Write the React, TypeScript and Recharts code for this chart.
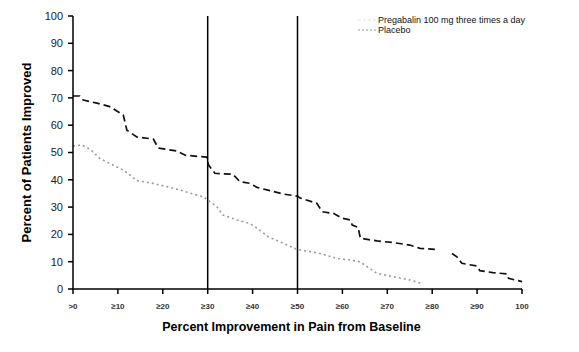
import { Label, Line, LineChart, ReferenceLine, XAxis, YAxis } from "recharts";

// Percent improvement in pain (x) vs percent of patients improved (y)
const pregabalinX = [
  0, 1.5, 2.3, 5.3, 8.2, 11.2, 12, 14.2, 17.9, 19, 23, 25, 29.8, 30.2, 31.6, 35.6, 37.2, 39.4, 41,
  43.9, 46.8, 50, 50.5, 54.3, 55.5, 58, 60, 61.7, 62.2, 63.5, 64, 67.7, 71.3, 75, 77.3, 80.6, 82.5,
  84.4, 85.5, 86.6, 90, 90.6, 93.5, 96.7, 97, 100,
];
const pregabalinY = [
  70.7, 70.7, 69.2, 68.1, 66.8, 63.7, 58.2, 55.7, 54.9, 51.6, 50.6, 49, 48.3, 45.4, 42.4, 42, 39.3,
  38.7, 37.2, 36, 34.8, 34, 33.4, 31.4, 28.3, 27.7, 25.9, 25.3, 23.4, 22.6, 18.6, 17.6, 17, 16.1,
  14.9, 14.5, null, 13, 11.8, 9.4, 8.4, 6.7, 6, 5.5, 3.9, 2.7,
];

const placeboX = [
  0, 2, 3.8, 6, 8.2, 11.1, 12.2, 14.2, 17.8, 20.9, 23.8, 26.7, 29, 30.5, 32, 33.4, 36.5, 39.4, 41.6,
  43.4, 46.1, 49.9, 52.8, 55, 58.8, 61.7, 63.9, 65.5, 67.7, 71.3, 75, 77.5,
];
const placeboY = [
  52.4, 52.7, 51.2, 47.8, 46, 43.6, 42.4, 39.7, 38.7, 37.5, 36.3, 34.8, 33.8, 32, 30.2, 27.1, 25.3,
  24, 21.6, 19.2, 17.3, 14.5, 13.7, 13, 11.2, 10.6, 10, 8.2, 5.7, 4.5, 3.3, 2.1,
];

const xTicks = [0, 10, 20, 30, 40, 50, 60, 70, 80, 90, 100];
const xTickLabels = [">0", "≥10", "≥20", "≥30", "≥40", "≥50", "≥60", "≥70", "≥80", "≥90", "100"];
const yTicks = [0, 10, 20, 30, 40, 50, 60, 70, 80, 90, 100];
const responderCutoffs = [30, 50];

const pregabalinData = pregabalinX.map((x, i) => ({ x, y: pregabalinY[i] }));
const placeboData = placeboX.map((x, i) => ({ x, y: placeboY[i] }));

const FONT = "'Liberation Sans', Arial, sans-serif";

// legend drawn as an overlay so it takes no room from the plot
function ChartLegend() {
  return (
    <div
      style={{
        position: "absolute",
        left: 357,
        top: 15,
        fontFamily: FONT,
        fontSize: 9,
        color: "#111",
        lineHeight: "10px",
      }}
    >
      <div style={{ display: "flex", alignItems: "center" }}>
        <svg width={21} height={10}>
          <line x1={1} y1={5} x2={19} y2={5} stroke="#e4e4e4" strokeWidth={1.2} strokeDasharray="3 2" />
        </svg>
        <span>Pregabalin 100 mg three times a day</span>
      </div>
      <div style={{ display: "flex", alignItems: "center" }}>
        <svg width={21} height={10}>
          <line x1={1} y1={5} x2={19} y2={5} stroke="#9a9a9a" strokeWidth={1.2} strokeDasharray="2 2" />
        </svg>
        <span>Placebo</span>
      </div>
    </div>
  );
}

export default function App() {
  return (
    <div style={{ position: "absolute", left: 0, top: 0, width: 579, height: 352, background: "#fff" }}>
      <LineChart width={579} height={352} margin={{ top: 16, right: 57, bottom: 0, left: 0 }}>
        <XAxis
          dataKey="x"
          type="number"
          domain={[0, 100]}
          ticks={xTicks}
          allowDuplicatedCategory={false}
          height={63}
          stroke="#000"
          strokeWidth={1.5}
          tickSize={5}
          tickMargin={9}
          tick={{ fill: "#333", fontSize: 8, fontFamily: FONT, fontWeight: "bold" }}
          tickFormatter={(v: number) => xTickLabels[xTicks.indexOf(v)]}
        >
          <Label
            value="Percent Improvement in Pain from Baseline"
            position="insideBottom"
            offset={21}
            dx={-6}
            style={{ fontFamily: FONT, fontSize: 12.5, fontWeight: "bold", fill: "#000" }}
          />
        </XAxis>
        <YAxis
          type="number"
          domain={[0, 100]}
          ticks={yTicks}
          width={73}
          stroke="#000"
          strokeWidth={1.5}
          tickSize={5}
          tickMargin={5}
          tick={{ fill: "#222", fontSize: 11, fontFamily: FONT }}
        >
          <Label
            value="Percent of Patients Improved"
            angle={-90}
            position="insideLeft"
            offset={26}
            style={{ textAnchor: "middle", fontFamily: FONT, fontSize: 13, fontWeight: "bold", fill: "#000" }}
          />
        </YAxis>
        {responderCutoffs.map((c) => (
          <ReferenceLine key={c} x={c} stroke="#000" strokeWidth={1.5} />
        ))}
        <Line
          data={placeboData}
          dataKey="y"
          name="Placebo"
          type="linear"
          stroke="#9a9a9a"
          strokeWidth={1.6}
          strokeDasharray="2 3"
          dot={false}
          isAnimationActive={false}
        />
        <Line
          data={pregabalinData}
          dataKey="y"
          name="Pregabalin 100 mg three times a day"
          type="linear"
          stroke="#111"
          strokeWidth={1.7}
          strokeDasharray="7 4"
          dot={false}
          connectNulls={false}
          isAnimationActive={false}
        />
      </LineChart>
      <ChartLegend />
    </div>
  );
}
